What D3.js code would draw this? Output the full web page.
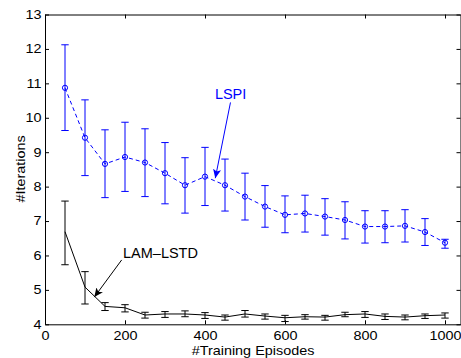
<!DOCTYPE html>
<html>
<head>
<meta charset="utf-8">
<script src="https://cdn.jsdelivr.net/npm/d3@7"></script>
<style>
  body { margin: 0; background: #fff; }
  svg { display: block; font-family: "Liberation Sans", Arial, Helvetica, sans-serif; }
</style>
</head>
<body>
<div id="chart"></div>
<script>
// Training episodes (x values)
const episodes = [50, 100, 150, 200, 250, 300, 350, 400, 450, 500,
  550, 600, 650, 700, 750, 800, 850, 900, 950, 1000];

// LSPI: mean / lower / upper of error bars
const lspiMean  = [10.87, 9.42, 8.66, 8.86, 8.70, 8.39, 8.04, 8.29, 8.04, 7.71,
  7.42, 7.18, 7.22, 7.13, 7.03, 6.84, 6.84, 6.86, 6.68, 6.37];
const lspiLower = [9.63, 8.32, 7.68, 7.86, 7.71, 7.50, 7.23, 7.45, 7.29, 7.03,
  6.82, 6.66, 6.68, 6.59, 6.48, 6.36, 6.37, 6.39, 6.29, 6.21];
const lspiUpper = [12.12, 10.52, 9.65, 9.87, 9.68, 9.28, 8.84, 9.14, 8.80, 8.39,
  8.03, 7.73, 7.75, 7.65, 7.56, 7.30, 7.30, 7.33, 7.07, 6.47];

// LAM-LSTD: mean / lower / upper
const lamMean  = [6.69, 5.08, 4.52, 4.48, 4.27, 4.30, 4.30, 4.27, 4.21, 4.30,
  4.24, 4.19, 4.22, 4.21, 4.28, 4.30, 4.23, 4.21, 4.25, 4.27];
const lamLower = [5.73, 4.59, 4.40, 4.36, 4.18, 4.20, 4.22, 4.17, 4.12, 4.21,
  4.15, 4.08, 4.15, 4.12, 4.22, 4.20, 4.14, 4.13, 4.17, 4.18];
const lamUpper = [7.58, 5.53, 4.63, 4.57, 4.35, 4.37, 4.39, 4.34, 4.27, 4.40,
  4.30, 4.26, 4.28, 4.26, 4.35, 4.37, 4.30, 4.27, 4.30, 4.33];

const xTicks = [0, 200, 400, 600, 800, 1000];
const yTicks = [4, 5, 6, 7, 8, 9, 10, 11, 12, 13];

// annotation anchors (data coordinates)
const lspiNote = { label: 'LSPI', tx: 464, ty: 10.54, x1: 463.7, y1: 10.445, x2: 425.7, y2: 8.244 };
const lamNote  = { label: 'LAM\u2013LSTD', tx: 195, ty: 5.915, x1: 191.7, y1: 5.87, x2: 123.3, y2: 4.79 };

const width = 461, height = 358;
const margin = { top: 14.5, right: 0, bottom: 33.7, left: 45 };
const sx = 1.2; // horizontal text stretch

const svg = d3.select('#chart').append('svg')
  .attr('width', width)
  .attr('height', height);

const x = d3.scaleLinear().domain([0, 1040]).range([margin.left, width - margin.right]);
const y = d3.scaleLinear().domain([4, 13]).range([height - margin.bottom, margin.top]);

const blue = '#0000ff';

// Arrow markers
const defs = svg.append('defs');
[['arrowBlue', blue], ['arrowBlack', '#000']].forEach(([id, col]) => {
  defs.append('marker')
    .attr('id', id)
    .attr('viewBox', '0 -5 10 10')
    .attr('refX', 10)
    .attr('refY', 0)
    .attr('markerWidth', 9)
    .attr('markerHeight', 9)
    .attr('markerUnits', 'userSpaceOnUse')
    .attr('orient', 'auto')
    .append('path')
    .attr('d', 'M0,-4.5L10,0L0,4.5L2.5,0Z')
    .attr('fill', col);
});

// Axes (ticks pointing inward, box around)
const axisFont = g => {
  g.selectAll('text')
    .attr('font-size', 12)
    .attr('fill', '#000')
    .attr('font-family', '"Liberation Sans", Arial, sans-serif');
  g.select('.domain').attr('stroke', '#000');
  g.selectAll('.tick line').attr('stroke', '#000');
};

const gx = svg.append('g')
  .attr('transform', `translate(0,${y(4)})`)
  .call(d3.axisBottom(x).tickValues(xTicks).tickFormat(d3.format('d'))
    .tickSizeInner(-4).tickSizeOuter(0).tickPadding(7.5))
  .call(axisFont);
gx.selectAll('text').attr('transform', `scale(${sx},1)`);

const gy = svg.append('g')
  .attr('transform', `translate(${x(0)},0)`)
  .call(d3.axisLeft(y).tickValues(yTicks).tickSizeInner(-4).tickSizeOuter(0).tickPadding(3))
  .call(axisFont);
gy.selectAll('text').attr('transform', `scale(${sx},1)`);

svg.append('g')
  .attr('transform', `translate(0,${y(13)})`)
  .call(d3.axisTop(x).tickValues(xTicks).tickSizeInner(-4).tickSizeOuter(0).tickFormat(''))
  .call(axisFont);

svg.append('g')
  .attr('transform', `translate(${x(1040) - 0.5},0)`)
  .call(d3.axisRight(y).tickValues(yTicks).tickSizeInner(-4).tickSizeOuter(0).tickFormat(''))
  .call(axisFont);

// Axis labels
svg.append('text')
  .attr('transform', `translate(${(x(0) + x(1040)) / 2},355) scale(${sx},1)`)
  .attr('text-anchor', 'middle')
  .attr('font-size', 12)
  .text('#Training Episodes');

svg.append('text')
  .attr('transform', `translate(25,169) rotate(-90) scale(${sx},1)`)
  .attr('text-anchor', 'middle')
  .attr('font-size', 12)
  .text('#Iterations');

// Series drawing
function drawSeries(mean, lower, upper, color, dashed, markers) {
  const g = svg.append('g');
  const line = d3.line().x((d, i) => x(episodes[i])).y(d => y(d));

  g.append('path')
    .datum(mean)
    .attr('fill', 'none')
    .attr('stroke', color)
    .attr('stroke-width', 1)
    .attr('stroke-dasharray', dashed ? '4,3' : null)
    .attr('d', line);

  const eb = g.selectAll('.eb')
    .data(episodes)
    .enter().append('g')
    .attr('class', 'eb')
    .attr('stroke', color)
    .attr('stroke-width', 1);

  eb.append('line')
    .attr('x1', d => x(d)).attr('x2', d => x(d))
    .attr('y1', (d, i) => y(lower[i])).attr('y2', (d, i) => y(upper[i]));
  eb.append('line')
    .attr('x1', d => x(d) - 3.7).attr('x2', d => x(d) + 3.7)
    .attr('y1', (d, i) => y(lower[i])).attr('y2', (d, i) => y(lower[i]));
  eb.append('line')
    .attr('x1', d => x(d) - 3.7).attr('x2', d => x(d) + 3.7)
    .attr('y1', (d, i) => y(upper[i])).attr('y2', (d, i) => y(upper[i]));

  if (markers) {
    g.selectAll('circle')
      .data(mean)
      .enter().append('circle')
      .attr('cx', (d, i) => x(episodes[i]))
      .attr('cy', d => y(d))
      .attr('r', 2.6)
      .attr('fill', 'none')
      .attr('stroke', color)
      .attr('stroke-width', 1);
  }
}

drawSeries(lspiMean, lspiLower, lspiUpper, blue, true, true);
drawSeries(lamMean, lamLower, lamUpper, '#000', false, false);

// Annotations
function annotate(note, color, marker, anchor) {
  svg.append('line')
    .attr('x1', x(note.x1)).attr('y1', y(note.y1))
    .attr('x2', x(note.x2)).attr('y2', y(note.y2))
    .attr('stroke', color)
    .attr('stroke-width', 1)
    .attr('marker-end', `url(#${marker})`);
  svg.append('text')
    .attr('x', x(note.tx))
    .attr('y', y(note.ty))
    .attr('text-anchor', anchor)
    .attr('font-size', 14.5)
    .attr('fill', color)
    .text(note.label);
}

annotate(lspiNote, blue, 'arrowBlue', 'middle');
annotate(lamNote, '#000', 'arrowBlack', 'start');
</script>
</body>
</html>
